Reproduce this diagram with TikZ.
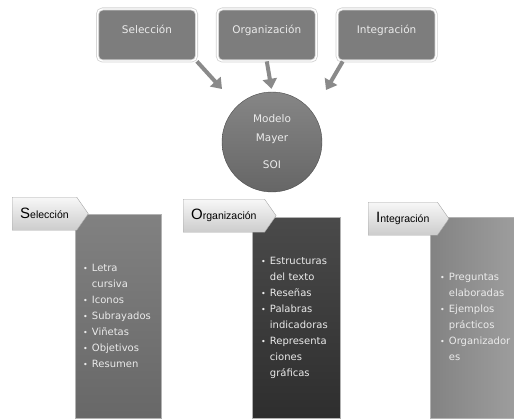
\documentclass[tikz,border=0pt]{standalone}
\usepackage{fontspec}
\setmainfont{DejaVu Sans}
\newfontfamily\tagfont{Liberation Sans}
\usetikzlibrary{arrows.meta,positioning,shapes.symbols}
\definecolor{boxgray}{HTML}{7D7D7D}
\definecolor{arrgray}{HTML}{8A8A8A}
\definecolor{selgray}{HTML}{737373}
\definecolor{orggray}{HTML}{363636}
\definecolor{intgray}{HTML}{8E8E8E}
\definecolor{lighttxt}{HTML}{EBEBEB}
\newcommand\tagtxt[2]{{\fontsize{15}{15}\selectfont #1}{\fontsize{10.5}{12}\selectfont #2}}
\newcommand\bl{{\fontsize{8}{8}\selectfont\textbullet}}

\begin{document}
\begin{tikzpicture}[x=1pt,y=-1pt,node distance=20pt,>={Triangle[width=14pt,length=10pt]},
  topbox/.style={draw=gray!35,double=white,double distance=1.4pt,line width=0.8pt,rounded corners=5pt,
    fill=boxgray,minimum width=99pt,minimum height=52pt,text=lighttxt,font=\fontsize{10.5}{12}\selectfont,text depth=11pt},
  arr/.style={->,line width=4pt,draw=arrgray},
  tagbox/.style={shape=signal,signal to=east,signal pointer angle=110,draw=gray!70,top color=white!97!black,
    bottom color=gray!40,inner xsep=8pt,minimum height=33pt,anchor=north west,font=\tagfont},
  body/.style={anchor=north west,draw=gray!60,text width=70pt,inner xsep=8pt,align=left,
    text=lighttxt,font=\fontsize{10}{16}\selectfont}]
  \useasboundingbox (0,0) rectangle (514,420);

  % top row
  \node [topbox] (sel) at (147,35) {Selección};
  \node [topbox, right=of sel] (org) {Organización};
  \node [topbox, right=of org] (int) {Integración};

  % model
  \node [circle,draw=gray!60!black,top color=gray!95,bottom color=gray!80!black,minimum size=100pt,
    text=lighttxt,align=center,font=\fontsize{10.5}{19}\selectfont] (soi) at (272,142) {Modelo\\Mayer\\[8pt]SOI};

  \coordinate (aS) at (222,89);
  \coordinate (aI) at (326,90);
  \draw [arr] (sel.south east) -- (aS);
  \draw [arr, shorten >=3pt] (org.south) -- (soi.north);
  \draw [arr] ([xshift=6pt]int.south west) -- (aI);

  % columns
  \node [body, top color=selgray!90!white, bottom color=selgray!90!black, minimum width=86pt, minimum height=204pt] (selb) at (75,214)
    {\begin{tabular}{@{}l@{\hspace{4pt}}l@{}}\bl & Letra\\ & cursiva\\ \bl & Iconos\\ \bl & Subrayados\\ \bl & Viñetas\\ \bl & Objetivos\\ \bl & Resumen\end{tabular}};
  \node [body, top color=orggray!90!white, bottom color=orggray!85!black, minimum width=88pt, minimum height=201pt] (orgb) at (252,217)
    {\begin{tabular}{@{}l@{\hspace{4pt}}l@{}}\bl & Estructuras\\ & del texto\\ \bl & Reseñas\\ \bl & Palabras\\ & indicadoras\\ \bl & Representa\\ & ciones\\ & gráficas\end{tabular}};
  \node [body, left color=intgray!92!black, right color=intgray!85!white, minimum width=86pt, minimum height=201pt, inner xsep=10pt] (intb) at (430,217)
    {\begin{tabular}{@{}l@{\hspace{4pt}}l@{}}\bl & Preguntas\\ & elaboradas\\ \bl & Ejemplos\\ & prácticos\\ \bl & Organizador\\ & es\end{tabular}};

  \node [tagbox] (selt) at (12,197) {\tagtxt{S}{elección}};
  \node [tagbox] (orgt) at (183,199) {\tagtxt{O}{rganización}};
  \node [tagbox] (intt) at (368,202) {\tagtxt{I}{ntegración}};
\end{tikzpicture}
\end{document}
